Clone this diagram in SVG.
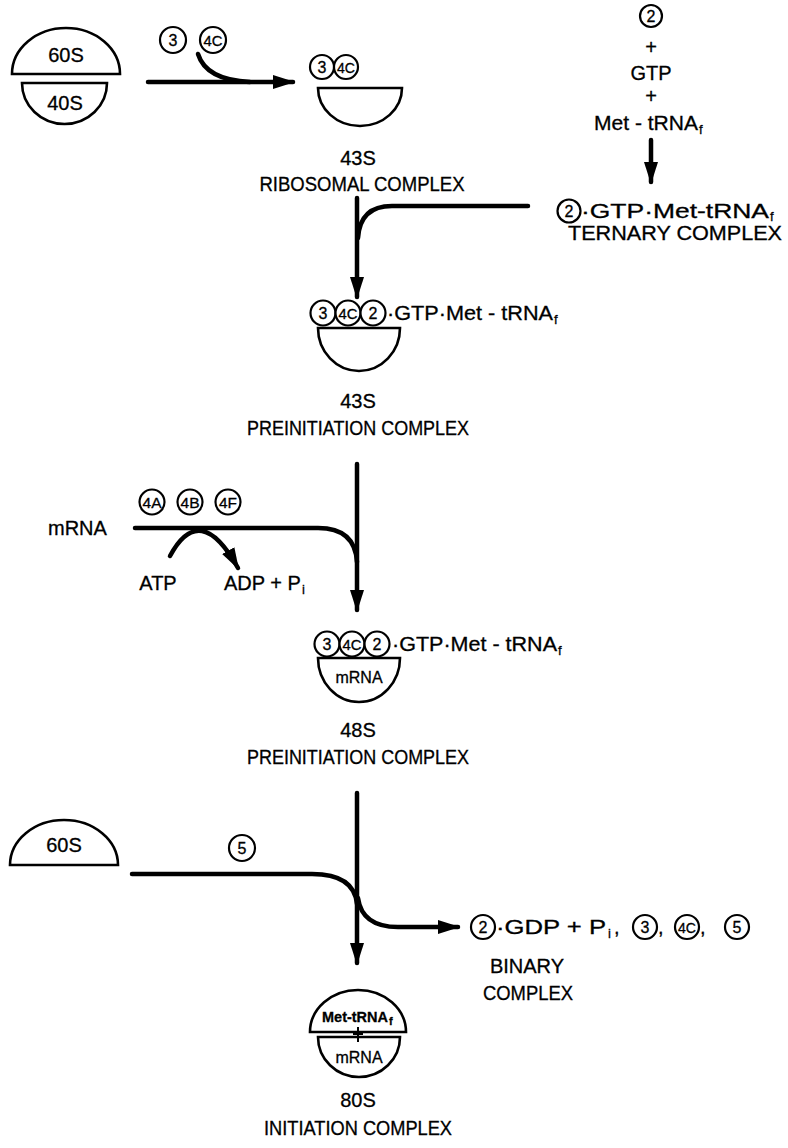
<svg xmlns="http://www.w3.org/2000/svg" width="788" height="1148" viewBox="0 0 788 1148">
<style>
text{font-family:"Liberation Sans","DejaVu Sans",sans-serif;fill:#000;stroke:#000;stroke-width:0.3}
.lbl{font-size:20px;text-anchor:middle}
.t{font-size:20px}
.c{font-size:16px;text-anchor:middle}
.c2{font-size:15px;text-anchor:middle}
.sub{font-size:13px}
.shape{fill:#fff;stroke:#000;stroke-width:2.6}
.fac{fill:#fff;stroke:#000;stroke-width:2.2}
.conn{fill:none;stroke:#000;stroke-width:4.5;stroke-linecap:round}
</style>
<defs>
<marker id="ah" markerUnits="userSpaceOnUse" markerWidth="22" markerHeight="14" viewBox="0 0 22 14" refX="20" refY="7" orient="auto">
<path d="M0,0 L22,7 L0,14 z" fill="#000"/>
</marker>
</defs>

<g id="connectors">
<path class="conn" d="M148,82 H293" marker-end="url(#ah)"/>
<path class="conn" d="M198,54 Q206,80 250,82"/>
<path class="conn" d="M651,140 V182" marker-end="url(#ah)"/>
<path class="conn" d="M357,198 V297" marker-end="url(#ah)"/>
<path class="conn" d="M528,206 H392 Q360,206 358,238"/>
<path class="conn" d="M357,464 V610" marker-end="url(#ah)"/>
<path class="conn" d="M135,528 H318 Q355,528 357,562"/>
<path class="conn" d="M170,556 Q200,500 238,568" marker-end="url(#ah)"/>
<path class="conn" d="M357,793 V963" marker-end="url(#ah)"/>
<path class="conn" d="M132,874 H312 Q354,874 357,904"/>
<path class="conn" d="M358,898 Q362,927 398,927 H458" marker-end="url(#ah)"/>
</g>

<g id="ribosome-80S-free">
<path class="shape" d="M12,74 A54,46 0 0 1 120,74 Z"/>
<text class="lbl" x="66" y="62">60S</text>
<path class="shape" d="M22,83 H107 A42.5,41 0 0 1 22,83 Z"/>
<text class="lbl" x="65" y="110">40S</text>
</g>

<g id="factors-3-4C">
<circle class="fac" cx="173" cy="40" r="13"/><text class="c" x="173" y="46">3</text>
<circle class="fac" cx="213" cy="40" r="13"/><text class="c2" x="213" y="45.5" textLength="19" lengthAdjust="spacingAndGlyphs">4C</text>
</g>

<g id="ribosomal-43S">
<circle class="fac" cx="322" cy="67" r="12"/><text class="c" x="322" y="73">3</text>
<circle class="fac" cx="346" cy="67" r="12"/><text class="c2" x="346" y="72.5" textLength="18" lengthAdjust="spacingAndGlyphs">4C</text>
<path class="shape" d="M318,88 H402 A42,38 0 0 1 318,88 Z"/>
<text class="lbl" x="358" y="165">43S</text>
<text class="lbl" x="362" y="191" textLength="205" lengthAdjust="spacingAndGlyphs">RIBOSOMAL COMPLEX</text>
</g>

<g id="ternary-reactants">
<circle class="fac" cx="651" cy="16" r="11"/><text class="c" x="651" y="22">2</text>
<text class="lbl" x="651" y="54">+</text>
<text class="lbl" x="651" y="80">GTP</text>
<text class="lbl" x="651" y="103">+</text>
<text class="t" x="594" y="130" textLength="104" lengthAdjust="spacingAndGlyphs">Met - tRNA</text>
<text class="sub" x="699" y="134">f</text>
</g>

<g id="ternary-complex">
<circle class="fac" cx="569" cy="211" r="11.5"/><text class="c" x="569" y="217">2</text>
<text class="t" x="581" y="218" textLength="188" lengthAdjust="spacingAndGlyphs">·GTP·Met-tRNA</text>
<text class="sub" x="770" y="221">f</text>
<text class="lbl" x="675" y="240" textLength="214" lengthAdjust="spacingAndGlyphs">TERNARY COMPLEX</text>
</g>

<g id="preinitiation-43S">
<circle class="fac" cx="323" cy="313" r="12.5"/><text class="c" x="323" y="319">3</text>
<circle class="fac" cx="348" cy="313" r="12.5"/><text class="c2" x="348" y="318.5" textLength="19" lengthAdjust="spacingAndGlyphs">4C</text>
<circle class="fac" cx="373" cy="313" r="12.5"/><text class="c" x="373" y="319">2</text>
<text class="t" x="387" y="320" textLength="166" lengthAdjust="spacingAndGlyphs">·GTP·Met - tRNA</text>
<text class="sub" x="554" y="324">f</text>
<path class="shape" d="M318,328 H400 A41,43 0 0 1 318,328 Z"/>
<text class="lbl" x="358" y="408">43S</text>
<text class="lbl" x="358" y="435" textLength="222" lengthAdjust="spacingAndGlyphs">PREINITIATION COMPLEX</text>
</g>

<g id="mrna-input">
<text class="t" x="48" y="535">mRNA</text>
<circle class="fac" cx="152" cy="502" r="12.5"/><text class="c2" x="152" y="507.5" textLength="19" lengthAdjust="spacingAndGlyphs">4A</text>
<circle class="fac" cx="190" cy="502" r="12.5"/><text class="c2" x="190" y="507.5" textLength="19" lengthAdjust="spacingAndGlyphs">4B</text>
<circle class="fac" cx="228" cy="502" r="12.5"/><text class="c2" x="228" y="507.5" textLength="18" lengthAdjust="spacingAndGlyphs">4F</text>
<text class="lbl" x="158" y="590">ATP</text>
<text class="t" x="224" y="590">ADP + P</text>
<text class="sub" x="302" y="594">i</text>
</g>

<g id="preinitiation-48S">
<circle class="fac" cx="327" cy="644" r="12.5"/><text class="c" x="327" y="650">3</text>
<circle class="fac" cx="352" cy="644" r="12.5"/><text class="c2" x="352" y="649.5" textLength="19" lengthAdjust="spacingAndGlyphs">4C</text>
<circle class="fac" cx="377" cy="644" r="12.5"/><text class="c" x="377" y="650">2</text>
<text class="t" x="392" y="651" textLength="165" lengthAdjust="spacingAndGlyphs">·GTP·Met - tRNA</text>
<text class="sub" x="558" y="655">f</text>
<path class="shape" d="M318,658 H400 A41,44 0 0 1 318,658 Z"/>
<text class="c" x="359" y="683" style="font-size:16px">mRNA</text>
<text class="lbl" x="358" y="737">48S</text>
<text class="lbl" x="358" y="764" textLength="222" lengthAdjust="spacingAndGlyphs">PREINITIATION COMPLEX</text>
</g>

<g id="subunit-60S">
<path class="shape" d="M10,865 A54,45 0 0 1 118,865 Z"/>
<text class="lbl" x="64" y="852">60S</text>
<circle class="fac" cx="242" cy="848" r="13"/><text class="c" x="242" y="854">5</text>
</g>

<g id="binary-complex">
<circle class="fac" cx="483" cy="927" r="12"/><text class="c" x="483" y="933">2</text>
<text class="t" x="496" y="934" textLength="110" lengthAdjust="spacingAndGlyphs">·GDP + P</text>
<text class="sub" x="608" y="938">i</text>
<text class="t" x="614" y="934">,</text>
<circle class="fac" cx="645" cy="927" r="12"/><text class="c" x="645" y="933">3</text>
<text class="t" x="658" y="934">,</text>
<circle class="fac" cx="687" cy="927" r="12"/><text class="c2" x="687" y="932.5" textLength="18" lengthAdjust="spacingAndGlyphs">4C</text>
<text class="t" x="700" y="934">,</text>
<circle class="fac" cx="737" cy="927" r="12"/><text class="c" x="737" y="933">5</text>
<text class="lbl" x="527" y="973">BINARY</text>
<text class="lbl" x="528" y="1000" textLength="90" lengthAdjust="spacingAndGlyphs">COMPLEX</text>
</g>

<g id="initiation-80S">
<path class="shape" d="M310,1032 A48,42 0 0 1 406,1032 Z"/>
<text x="322" y="1022" style="font-size:15px;font-weight:bold" textLength="66" lengthAdjust="spacingAndGlyphs">Met-tRNA</text>
<text class="sub" x="389" y="1025" style="font-size:11px;font-weight:bold">f</text>
<path class="shape" d="M318,1037 H400 A41,40 0 0 1 318,1037 Z"/>
<text class="c" x="359" y="1063" style="font-size:16px">mRNA</text>
<path d="M358,1027 V1042 M353,1034 H363" stroke="#000" stroke-width="2"/>
<text class="lbl" x="358" y="1107">80S</text>
<text class="lbl" x="358" y="1135" textLength="188" lengthAdjust="spacingAndGlyphs">INITIATION COMPLEX</text>
</g>
</svg>
